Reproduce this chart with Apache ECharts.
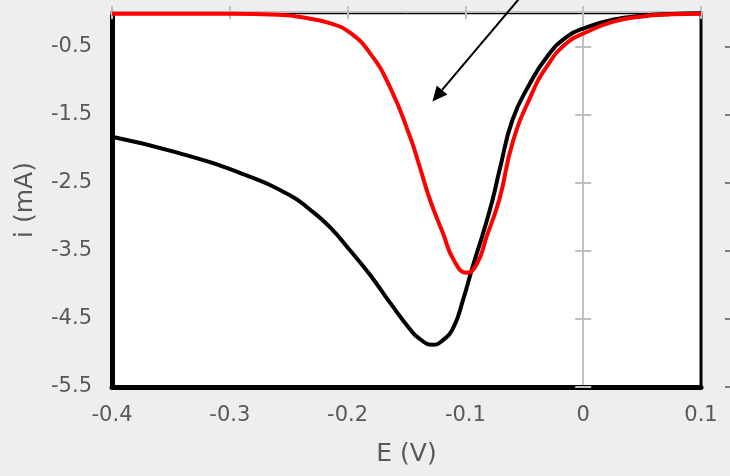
<!DOCTYPE html>
<html>
<head>
<meta charset="utf-8">
<script src="https://cdn.jsdelivr.net/npm/echarts@6/dist/echarts.min.js"></script>
<style>
  html, body { margin: 0; padding: 0; background: #eceef0; }
  #main { width: 730px; height: 476px; }
</style>
</head>
<body>
<div id="main"></div>
<script>
// black curve (before)
const blackE = [-0.400, -0.343, -0.287, -0.249, -0.232, -0.215, -0.198, -0.181, -0.164, -0.147, -0.139, -0.128, -0.119, -0.110, -0.102, -0.094, -0.085, -0.077, -0.071, -0.060, -0.045, -0.031, -0.014, 0.003, 0.025, 0.050, 0.075, 0.100];
const blackI = [-1.82, -2.06, -2.38, -2.68, -2.89, -3.15, -3.49, -3.85, -4.26, -4.65, -4.79, -4.88, -4.81, -4.62, -4.22, -3.74, -3.24, -2.75, -2.31, -1.57, -1.03, -0.65, -0.35, -0.21, -0.10, -0.04, -0.015, -0.005];

// red curve (after)
const redE = [-0.400, -0.300, -0.255, -0.240, -0.215, -0.198, -0.181, -0.164, -0.147, -0.139, -0.130, -0.119, -0.110, -0.099, -0.090, -0.082, -0.071, -0.060, -0.045, -0.031, -0.014, 0.003, 0.025, 0.050, 0.075, 0.100];
const redI = [-0.01, -0.01, -0.03, -0.06, -0.15, -0.29, -0.59, -1.09, -1.82, -2.25, -2.75, -3.24, -3.63, -3.82, -3.68, -3.29, -2.73, -1.91, -1.24, -0.79, -0.44, -0.28, -0.13, -0.05, -0.02, -0.01];

const xTicks = [-0.4, -0.3, -0.2, -0.1, 0, 0.1];
const yTicks = [-5.5, -4.5, -3.5, -2.5, -1.5, -0.5];

// annotation arrow, in data units
const arrowFrom = [-0.05, 0.3];
const arrowTo = [-0.128, -1.3];

const labelFont = { color: '#595959', fontSize: 21, fontFamily: 'DejaVu Sans' };
const nameFont = { color: '#595959', fontSize: 25, fontFamily: 'DejaVu Sans' };
const gray = '#c0c0c0';

const chart = echarts.init(document.getElementById('main'));

function pairs(xs, ys) {
  return xs.map((x, k) => [x, ys[k]]);
}

const xBase = { type: 'value', min: xTicks[0], max: xTicks[xTicks.length - 1], interval: 0.1, splitLine: { show: false } };
const yBase = { type: 'value', min: yTicks[0], max: 0, interval: 1, splitLine: { show: false } };

const option = {
  backgroundColor: '#eceef0',
  animation: false,
  grid: {
    left: 112, right: 29, top: 13, bottom: 89,
    show: true, backgroundColor: '#ffffff', borderColor: '#000000', borderWidth: 3
  },
  xAxis: [
    Object.assign({}, xBase, {
      position: 'bottom',
      axisLine: { onZero: false, lineStyle: { color: '#000', width: 5 } },
      axisTick: { show: false },
      axisLabel: Object.assign({ margin: 18, formatter: v => String(+v.toFixed(1)) }, labelFont),
      name: 'E (V)', nameLocation: 'middle', nameGap: 55,
      nameTextStyle: nameFont
    }),
    Object.assign({}, xBase, {
      position: 'top',
      axisLine: { onZero: false, lineStyle: { color: gray, width: 4 } },
      axisTick: { show: true, length: 7, lineStyle: { color: gray, width: 2 } },
      axisLabel: { show: false }
    }),
    Object.assign({}, xBase, {
      position: 'top',
      axisLine: { onZero: false, lineStyle: { color: '#000', width: 1 } },
      axisTick: { show: true, inside: true, length: 6, lineStyle: { color: gray, width: 2 } },
      axisLabel: { show: false }
    })
  ],
  yAxis: [
    Object.assign({}, yBase, {
      position: 'left',
      axisLine: { onZero: false, lineStyle: { color: '#000', width: 5 } },
      axisTick: { show: false },
      axisLabel: Object.assign({ margin: 20, showMaxLabel: false, formatter: v => v.toFixed(1) }, labelFont),
      name: 'i (mA)', nameLocation: 'middle', nameGap: 74,
      nameTextStyle: nameFont
    }),
    Object.assign({}, yBase, {
      position: 'left',
      axisLine: { onZero: true, onZeroAxisIndex: 0, lineStyle: { color: gray, width: 2 } },
      axisTick: { show: true, length: 8, customValues: yTicks, lineStyle: { color: gray, width: 2 } },
      axisLabel: { show: false }
    }),
    Object.assign({}, yBase, {
      position: 'left',
      axisLine: { onZero: true, onZeroAxisIndex: 0, lineStyle: { color: 'rgba(0,0,0,0)', width: 1 } },
      axisTick: { show: true, inside: true, length: 8, customValues: yTicks, lineStyle: { color: gray, width: 2 } },
      axisLabel: { show: false }
    }),
    Object.assign({}, yBase, {
      position: 'right', offset: 24,
      axisLine: { show: false, onZero: false },
      axisTick: { show: true, length: 8, customValues: yTicks, lineStyle: { color: '#7f7f7f', width: 2 } },
      axisLabel: { show: false }
    })
  ],
  series: [
    {
      type: 'line', name: 'before', data: pairs(blackE, blackI),
      xAxisIndex: 0, yAxisIndex: 0, smooth: 0.5, showSymbol: false, clip: false,
      lineStyle: { color: '#000000', width: 4 }
    },
    {
      type: 'line', name: 'after', data: pairs(redE, redI),
      xAxisIndex: 0, yAxisIndex: 0, smooth: 0.5, showSymbol: false, clip: false,
      lineStyle: { color: '#ff0000', width: 4 }
    }
  ]
};

chart.setOption(option);

// arrow drawn from data coordinates through the chart's own scales
const p1 = chart.convertToPixel({ xAxisIndex: 0, yAxisIndex: 0 }, arrowFrom);
const p2 = chart.convertToPixel({ xAxisIndex: 0, yAxisIndex: 0 }, arrowTo);
const dx = p2[0] - p1[0], dy = p2[1] - p1[1];
const len = Math.sqrt(dx * dx + dy * dy);
const ux = dx / len, uy = dy / len;
const headLen = 15, headHalf = 7;
const bx = p2[0] - ux * headLen, by = p2[1] - uy * headLen;

chart.setOption({
  graphic: [
    {
      type: 'line', z: 100,
      shape: { x1: p1[0], y1: p1[1], x2: bx, y2: by },
      style: { stroke: '#000', lineWidth: 2 }
    },
    {
      type: 'polygon', z: 100,
      shape: { points: [[p2[0], p2[1]], [bx - uy * headHalf, by + ux * headHalf], [bx + uy * headHalf, by - ux * headHalf]] },
      style: { fill: '#000' }
    }
  ]
});
</script>
</body>
</html>
